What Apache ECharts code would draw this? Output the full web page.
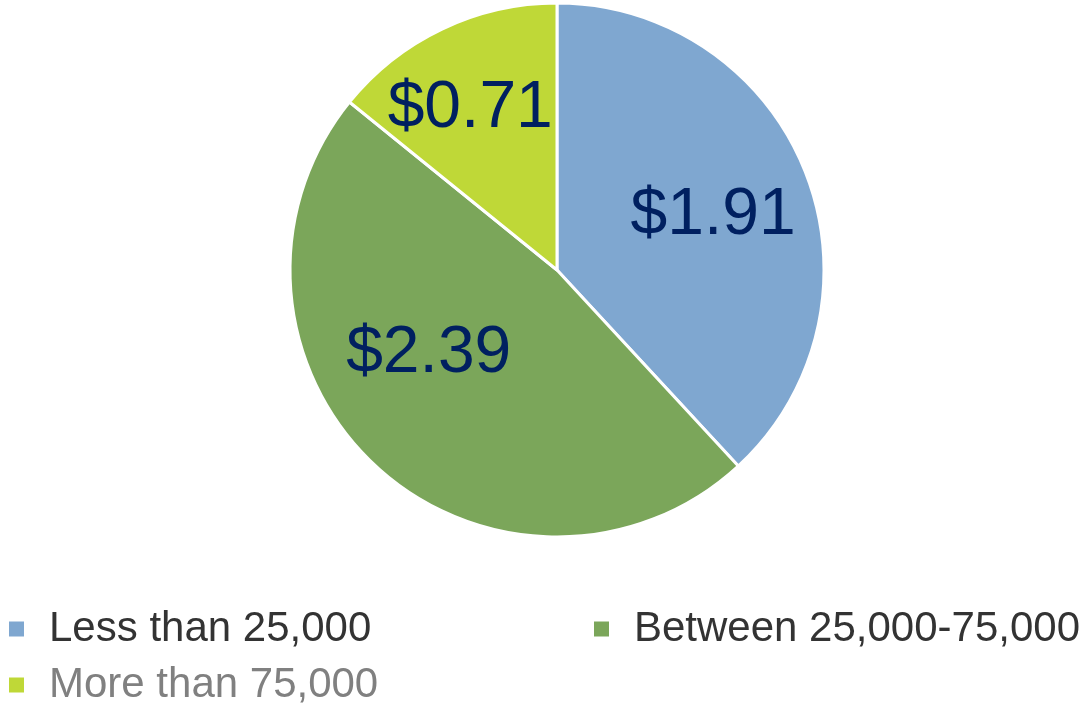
<!DOCTYPE html>
<html>
<head>
<meta charset="utf-8">
<script src="https://cdn.jsdelivr.net/npm/echarts@6/dist/echarts.min.js"></script>
<style>
  html, body { margin: 0; padding: 0; background: #fff; }
  #chart { width: 1085px; height: 704px; }
</style>
</head>
<body>
<div id="chart"></div>
<script>
// income groups and amounts
var categories = ["Less than 25,000", "Between 25,000-75,000", "More than 75,000"]
var values = [1.91, 2.39, 0.71]
var colors = ["#7fa7d0", "#7ba65a", "#bfd837"]
// nudges so labels sit where the original had them
var labelOffsets = [[29, -4], [-35, -16], [-28, -38]]

var chart = echarts.init(document.getElementById("chart"))

function legendFor(i, left, top, textColor) {
  return {
    data: [categories[i]],
    left: left,
    top: top,
    padding: 0,
    itemWidth: 17,
    itemHeight: 17,
    icon: "rect",
    selectedMode: false,
    textStyle: {
      fontFamily: "Liberation Sans, Arial, sans-serif",
      fontSize: 42,
      color: textColor,
      padding: [0, 0, 0, 19]
    }
  }
}

var option = {
  color: colors,
  animation: false,
  legend: [
    legendFor(0, 7, 608, "#333333"),
    legendFor(1, 592, 608, "#333333"),
    legendFor(2, 7, 664, "#808080")
  ],
  series: [
    {
      type: "pie",
      center: [557, 270],
      radius: 267,
      startAngle: 90,
      clockwise: true,
      itemStyle: {
        borderColor: "#ffffff",
        borderWidth: 3
      },
      label: {
        show: true,
        position: "inside",
        fontFamily: "Liberation Sans, Arial, sans-serif",
        fontSize: 66,
        color: "#002060",
        formatter: function (p) { return "$" + p.value.toFixed(2) }
      },
      labelLine: { show: false },
      emphasis: { disabled: true },
      data: categories.map(function (name, i) {
        return {
          name: name,
          value: values[i],
          label: { offset: labelOffsets[i] }
        }
      })
    }
  ]
}

chart.setOption(option)
</script>
</body>
</html>
